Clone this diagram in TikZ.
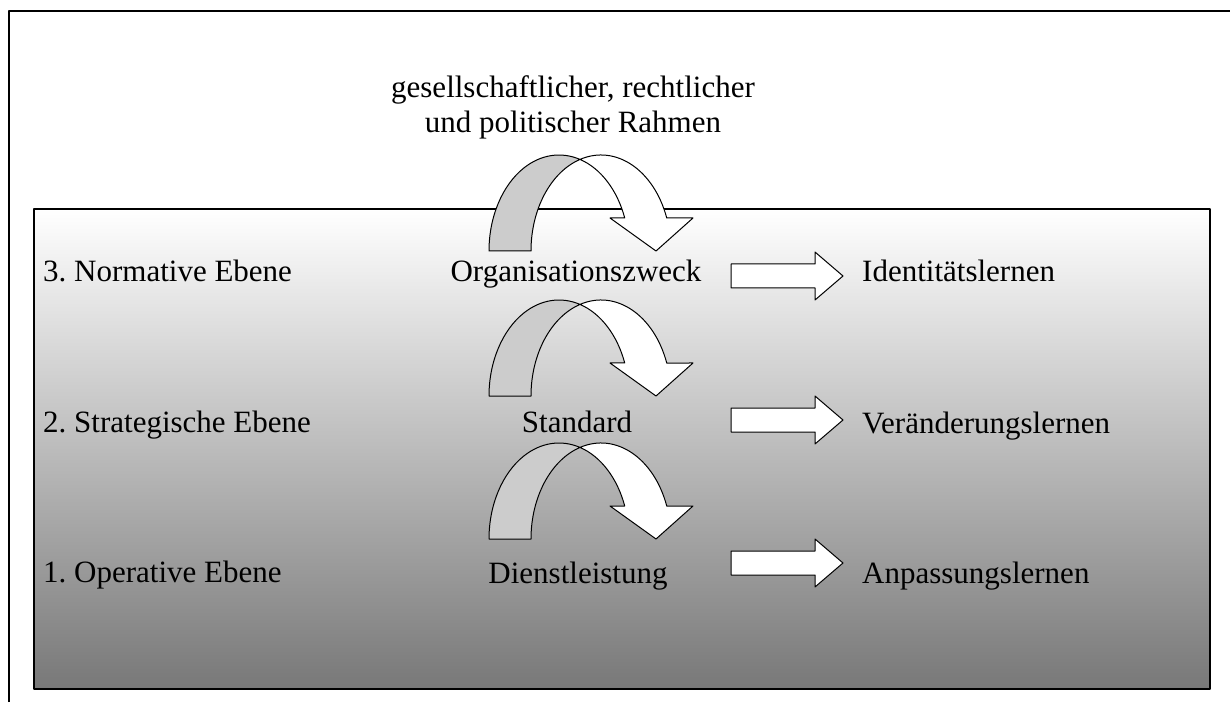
\documentclass[tikz,border=0pt]{standalone}
\usepackage{fontspec}
\setmainfont{Liberation Serif}
\frenchspacing
\definecolor{backgray}{gray}{0.8}
\tikzset{
  lvltext/.style={inner sep=0pt},
  flatarrow/.style={draw=black, fill=white, line width=1pt},
}
% curved arrow: #1 = centre x of the back ellipse, #2 = height of the feet
\newcommand\curvedarrow[2]{%
  \filldraw[fill=backgray, line width=1pt] (#1-70,#2) arc[start angle=180, end angle=72.54, x radius=70, y radius=96]
    arc[start angle=107.46, end angle=180, x radius=70, y radius=96] -- cycle;
  \filldraw[fill=white, line width=1pt] (#1+21,#2+91.58) arc[start angle=107.46, end angle=20.1, x radius=70, y radius=96]
    -- (#1+134,#2+33) -- (#1+97,#2) -- (#1+51,#2+33) -- (#1+65.73,#2+33)
    arc[start angle=20.1, end angle=72.54, x radius=70, y radius=96] -- cycle;}
% straight block arrow at height #1
\newcommand\blockarrow[1]{%
  \draw[flatarrow] (731,#1+12) -- (815,#1+12) -- (815,#1+24) -- (843,#1) -- (815,#1-24) -- (815,#1-12) -- (731,#1-12) -- cycle;}
\begin{document}
\begin{tikzpicture}[x=1pt, y=1pt, font=\fontsize{31}{35}\selectfont, line join=round]
	\useasboundingbox (0,0) rectangle (1230,702);
	\draw[line width=2pt] (9,0) -- (9,691) -- (1230,691);
	\shade[top color=white, middle color=black!20, bottom color=black!53] (34,13) rectangle (1210,493);
	\draw[line width=1.8pt] (34,13) rectangle (1210,493);
	\node[align=center, anchor=base] (rahmen) at (573,569) {gesellschaftlicher, rechtlicher\\und politischer Rahmen};
	% the three levels
	\node[lvltext, anchor=base west] (normativ) at (43,420) {3. Normative Ebene};
	\node[lvltext, anchor=base west] (strategisch) at (43,270) {2. Strategische Ebene};
	\node[lvltext, anchor=base west] (operativ) at (43,120) {1. Operative Ebene};
	\node[lvltext, anchor=base] (zweck) at (576,420) {Organisationszweck};
	\node[lvltext, anchor=base] (standard) at (577,270) {Standard};
	\node[lvltext, anchor=base] (dienst) at (578,119) {Dienstleistung};
	\node[lvltext, anchor=base west] (identitaet) at (862,420) {Identitätslernen};
	\node[lvltext, anchor=base west] (veraenderung) at (862,269) {Veränderungslernen};
	\node[lvltext, anchor=base west] (anpassung) at (862,119) {Anpassungslernen};
	\curvedarrow{559}{451}
	\curvedarrow{559}{306}
	\curvedarrow{559}{163}
	\blockarrow{426}
	\blockarrow{282}
	\blockarrow{139}
\end{tikzpicture}
\end{document}
